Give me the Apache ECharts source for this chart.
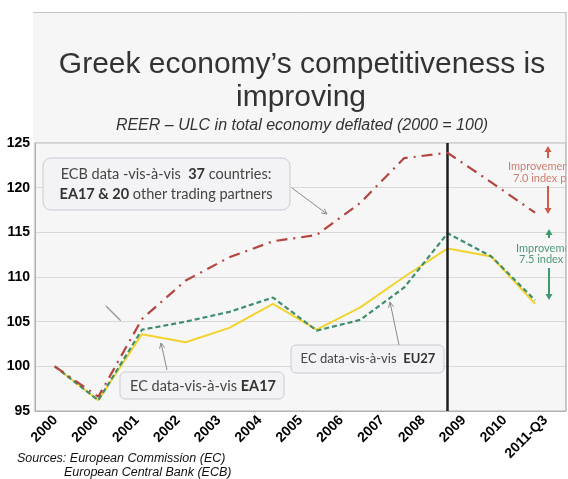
<!DOCTYPE html>
<html><head><meta charset="utf-8">
<script src="https://cdn.jsdelivr.net/npm/echarts@6/dist/echarts.min.js"></script>
<style>html,body{margin:0;padding:0;background:#fff}#c{width:568px;height:479px}</style>
</head><body><div id="c"></div>
<script>
// ---- data ----
const tickLabels = ['2000','2000','2001','2002','2003','2004','2005','2006','2007','2008','2009','2010','2011-Q3'];
const pointIndex = [0,1,2,3,4,5,6,7,8,9,10,11];
const ecb37  = [100,96.6,105.3,109.6,112.2,114.0,114.7,118.3,123.3,123.9,120.6,117.2];
const ecEU27 = [100,96.2,104.1,105.0,106.1,107.7,104.0,105.2,108.8,114.9,112.3,107.4];
const ecEA17 = [100,96.2,103.6,102.7,104.3,107.0,104.1,106.6,110.0,113.2,112.3,107.0];
const markerIndex = 9; // 2009 vertical line
const yMin = 95, yMax = 125, yStep = 5;

const pairs = arr => pointIndex.map((x, k) => [x, arr[k]]);
const chart = echarts.init(document.getElementById('c'), null, {renderer: 'canvas'});
const boxFont = 'Lato, "Open Sans", sans-serif';
const grey = '#8a8a8a';

function arrowLine(x1, y1, x2, y2, color, w, head) {
  const a = Math.atan2(y2 - y1, x2 - x1), h = head || 6;
  const p1 = [x2 - h * Math.cos(a - 0.45), y2 - h * Math.sin(a - 0.45)];
  const p2 = [x2 - h * Math.cos(a + 0.45), y2 - h * Math.sin(a + 0.45)];
  return [
    {type: 'line', shape: {x1, y1, x2, y2}, style: {stroke: color, lineWidth: w}, z: 50},
    {type: 'polyline', shape: {points: [p1, [x2, y2], p2]}, style: {stroke: color, lineWidth: w, fill: null}, z: 50}
  ];
}
function solidArrow(x, yTail, yHead, color) {
  const dir = yHead < yTail ? -1 : 1;
  return [
    {type: 'line', shape: {x1: x, y1: yTail, x2: x, y2: yHead - dir * 5}, style: {stroke: color, lineWidth: 2}, z: 50},
    {type: 'polygon', shape: {points: [[x - 3.5, yHead - dir * 6], [x + 3.5, yHead - dir * 6], [x, yHead]]}, style: {fill: color}, z: 50}
  ];
}

const graphics = [
  {type: 'rect', shape: {x: 33, y: 12, width: 533, height: 399}, style: {fill: '#f6f6f6'}, z: -10, silent: true},
  {type: 'line', shape: {x1: 33, y1: 12.5, x2: 566, y2: 12.5}, style: {stroke: '#c4c4c4', lineWidth: 1}, z: -9, silent: true},
  {type: 'text', x: 302, y: 65, style: {text: 'Greek economy’s competitiveness is', font: '30px "Liberation Sans", Arial, sans-serif', fill: '#333', align: 'center', verticalAlign: 'middle'}, z: 50},
  {type: 'text', x: 301, y: 98, style: {text: 'improving', font: '30px "Liberation Sans", Arial, sans-serif', fill: '#333', align: 'center', verticalAlign: 'middle'}, z: 50},
  {type: 'text', x: 302, y: 126, style: {text: 'REER – ULC in total economy deflated (2000 = 100)', font: 'italic 16px "Liberation Sans", Arial, sans-serif', fill: '#333', align: 'center', verticalAlign: 'middle'}, z: 50},
  // annotation box 1
  {type: 'rect', shape: {x: 43, y: 158, width: 247, height: 52, r: 8}, style: {fill: '#f3f3f5', stroke: '#c9cbd3', lineWidth: 1}, z: 40},
  {type: 'text', x: 166, y: 184, style: {
    text: '{n|ECB data -vis-à-vis  }{b|37}{n| countries:}\n{b|EA17 & 20}{n| other trading partners}',
    align: 'center', verticalAlign: 'middle', fill: '#444',
    rich: {n: {font: '14.5px ' + boxFont, fill: '#444', lineHeight: 20}, b: {font: 'bold 14.5px ' + boxFont, fill: '#333', lineHeight: 20}}
  }, z: 45},
  // annotation box 2
  {type: 'rect', shape: {x: 120, y: 372, width: 164, height: 27, r: 5}, style: {fill: '#f3f3f5', stroke: '#c9cbd3', lineWidth: 1}, z: 40},
  {type: 'text', x: 203, y: 386, style: {
    text: '{n|EC data-vis-à-vis }{b|EA17}', align: 'center', verticalAlign: 'middle',
    rich: {n: {font: '14.5px ' + boxFont, fill: '#444'}, b: {font: 'bold 14.5px ' + boxFont, fill: '#333'}}
  }, z: 45},
  // annotation box 3
  {type: 'rect', shape: {x: 291, y: 345, width: 153, height: 28, r: 5}, style: {fill: '#f3f3f5', stroke: '#c9cbd3', lineWidth: 1}, z: 40},
  {type: 'text', x: 368, y: 359, style: {
    text: '{n|EC data-vis-à-vis  }{b|EU27}', align: 'center', verticalAlign: 'middle',
    rich: {n: {font: '13px ' + boxFont, fill: '#444'}, b: {font: 'bold 13px ' + boxFont, fill: '#333'}}
  }, z: 45},
  ...arrowLine(292, 188, 327, 214, grey, 1, 6),
  ...arrowLine(167, 370, 161, 343, grey, 1, 6),
  ...arrowLine(399, 345, 390, 302, grey, 1, 6),
  ...arrowLine(106, 306, 120, 320, '#9a9a9a', 1.5, 0.1),
  // right-side improvement notes
  ...solidArrow(548, 158, 146, '#d35a4a'),
  ...solidArrow(548, 186, 214, '#d35a4a'),
  {type: 'text', x: 508, y: 166, style: {text: 'Improvement', font: '11px ' + boxFont, fill: '#cf7e74', verticalAlign: 'middle'}, z: 45},
  {type: 'text', x: 513, y: 178, style: {text: '7.0 index points', font: '11px ' + boxFont, fill: '#cf7e74', verticalAlign: 'middle'}, z: 45},
  ...solidArrow(549, 238, 229, '#3e9a6c'),
  ...solidArrow(549, 268, 300, '#3e9a6c'),
  {type: 'text', x: 516, y: 248, style: {text: 'Improvement', font: '11px ' + boxFont, fill: '#4f9878', verticalAlign: 'middle'}, z: 45},
  {type: 'text', x: 519, y: 259, style: {text: '7.5 index points', font: '11px ' + boxFont, fill: '#4f9878', verticalAlign: 'middle'}, z: 45},
  {type: 'rect', shape: {x: 566.5, y: 0, width: 10, height: 420}, style: {fill: '#fff'}, z: 60},
  {type: 'line', shape: {x1: 566, y1: 12, x2: 566, y2: 411}, style: {stroke: '#b0b0b0', lineWidth: 1}, z: 61},
  // sources
  {type: 'text', x: 17, y: 459, style: {text: 'Sources: European Commission (EC)', font: 'italic 12.5px "Liberation Sans", Arial, sans-serif', fill: '#111', verticalAlign: 'middle'}, z: 45},
  {type: 'text', x: 64, y: 473, style: {text: 'European Central Bank (ECB)', font: 'italic 12.5px "Liberation Sans", Arial, sans-serif', fill: '#111', verticalAlign: 'middle'}, z: 45}
];

chart.setOption({
  animation: false,
  backgroundColor: '#ffffff',
  grid: {left: 35, right: 2, top: 143, bottom: 68, show: true, borderColor: '#b0b0b0', borderWidth: 1, backgroundColor: 'transparent'},
  xAxis: [
    {type: 'value', position: 'top', min: -0.45, max: 11.71, show: false},
    {type: 'category', position: 'bottom', data: tickLabels, boundaryGap: true,
     axisLine: {show: true, lineStyle: {color: '#b0b0b0'}}, axisTick: {show: false},
     axisLabel: {interval: 0, rotate: 45, margin: 7, color: '#000', fontWeight: 'bold', fontSize: 14, fontFamily: '"Liberation Sans", Arial, sans-serif'}}
  ],
  yAxis: {type: 'value', min: yMin, max: yMax, interval: yStep,
    axisLine: {show: true, onZero: false, lineStyle: {color: '#b0b0b0'}}, axisTick: {show: false},
    axisLabel: {color: '#000', fontWeight: 'bold', fontSize: 14, margin: 5, fontFamily: '"Liberation Sans", Arial, sans-serif'},
    splitLine: {lineStyle: {color: '#d9d9d9', width: 1}}},
  series: [
    {name: 'ECB 37', type: 'line', xAxisIndex: 0, data: pairs(ecb37), symbol: 'none', z: 5,
     lineStyle: {color: '#b5443f', width: 2.2, type: [11, 6, 2, 6]}},
    {name: 'EC EU27', type: 'line', xAxisIndex: 0, data: pairs(ecEU27), symbol: 'none', z: 4,
     lineStyle: {color: '#3f8e6e', width: 2.2, type: [5, 3]}},
    {name: 'EC EA17', type: 'line', xAxisIndex: 0, data: pairs(ecEA17), symbol: 'none', z: 3,
     lineStyle: {color: '#f3d32f', width: 2},
     markLine: {silent: true, symbol: ['none', 'none'], label: {show: false},
       lineStyle: {color: '#1e1e1e', width: 2.5, type: 'solid'}, data: [{xAxis: markerIndex}]}}
  ],
  graphic: graphics
});
</script>
</body></html>
